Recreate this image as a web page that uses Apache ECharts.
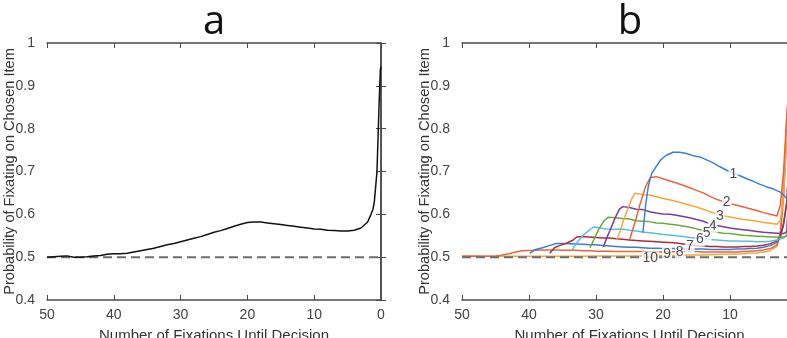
<!DOCTYPE html>
<html>
<head>
<meta charset="utf-8">
<script src="https://cdn.jsdelivr.net/npm/echarts@6/dist/echarts.min.js"></script>
<style>
html, body { margin: 0; padding: 0; background: #fff; }
#main { width: 787px; height: 338px; }
</style>
</head>
<body>
<div id="main"></div>
<script>
// panel a: all trials
var curveA = [[50,0.500],[49,0.501],[48,0.502],[47,0.503],[46,0.500],[45,0.500],[44,0.501],[43,0.503],[42,0.504],[41,0.507],
    [40,0.508],[39,0.508],[38,0.509],[37,0.512],[36,0.515],[35,0.518],[34,0.521],[33,0.525],[32,0.529],[31,0.532],
    [30,0.536],[29,0.540],[28,0.544],[27,0.548],[26,0.553],[25,0.558],[24,0.562],[23,0.567],[22,0.572],[21,0.577],
    [20,0.581],[19,0.582],[18,0.582],[17,0.580],[16,0.578],[15,0.576],[14,0.574],[13,0.572],[12,0.570],[11,0.568],
    [10,0.566],[9,0.565],[8,0.563],[7,0.562],[6,0.561],[5,0.561],[4,0.563],[3,0.568],[2,0.582],[1.5,0.600],
    [1.2,0.612],[1,0.629],[0.6,0.700],[0.3,0.850],[0.1,0.937],[0,0.945]];

// panel b: one curve per group (1..10)
var curve1 = [[23,0.557],[22.6,0.620],[22.2,0.665],[21.7,0.695],[21,0.712],[20.3,0.728],[19.5,0.738],[18.5,0.745],[17.5,0.745],
    [16.5,0.742],[15.5,0.737],[14.5,0.734],[13.5,0.727],[12.5,0.720],[11.5,0.711],[10.5,0.703],[9.5,0.696],[8.5,0.690],
    [7.5,0.683],[6.5,0.677],[5.5,0.670],[4.5,0.664],[3.5,0.659],[2.5,0.652],[1.5,0.637],[1,0.660],[0.5,0.800],[0,0.950]];
var curve2 = [[25,0.540],[24.2,0.580],[23.4,0.625],[22.6,0.665],[21.9,0.686],[21,0.688],[20,0.683],[19,0.678],[18,0.673],
    [17,0.668],[16,0.662],[15,0.656],[14,0.650],[13,0.642],[12,0.635],[11,0.630],[10,0.625],[9,0.621],[8,0.617],[7,0.613],
    [6,0.609],[5,0.604],[4,0.600],[3,0.596],[2.5,0.620],[2,0.700],[1.5,0.840],[1,0.920],[0,0.970]];
var curve3 = [[26.9,0.540],[26.3,0.565],[25.9,0.586],[25.2,0.615],[24.6,0.638],[24.2,0.649],[23,0.646],[22,0.645],[21,0.641],
    [20,0.637],[19,0.634],[18,0.630],[17,0.626],[16,0.621],[15,0.617],[14,0.612],[13,0.606],[12,0.601],[11,0.597],[10,0.594],
    [9,0.591],[8,0.588],[7,0.586],[6,0.584],[5,0.581],[4,0.579],[3,0.577],[2.5,0.585],[2,0.640],[1.5,0.790],[1,0.900],[0,0.970]];
var curve4 = [[28.9,0.524],[28.4,0.545],[27.9,0.563],[27.2,0.590],[26.5,0.612],[26,0.618],[25,0.616],[24,0.612],[23,0.611],
    [22,0.606],[21,0.603],[20,0.601],[19,0.600],[18,0.598],[17,0.595],[16,0.592],[15,0.588],[14,0.584],[13,0.578],[12,0.574],
    [11,0.571],[10,0.568],[9,0.566],[8,0.564],[7,0.562],[6,0.560],[5,0.558],[4,0.557],[3,0.556],[2,0.555],[1.5,0.560],
    [1,0.750],[0,0.960]];
var curve5 = [[30.9,0.522],[30.2,0.545],[29.5,0.568],[28.8,0.585],[28.2,0.593],[27,0.592],[26,0.590],[25,0.589],[24,0.585],
    [23,0.584],[22,0.583],[21,0.580],[20,0.579],[19,0.577],[18,0.575],[17,0.573],[16,0.570],[15,0.566],[14,0.563],[13,0.560],
    [12,0.558],[11,0.556],[10,0.555],[9,0.553],[8,0.551],[7,0.550],[6,0.549],[5,0.548],[4,0.547],[3,0.547],[2,0.547],
    [1.5,0.550],[1,0.720],[0,0.960]];
var curve6 = [[33.6,0.516],[32.8,0.535],[32,0.550],[31,0.563],[30.3,0.571],[29.5,0.568],[28.5,0.566],[27,0.565],[26,0.566],
    [25,0.563],[24,0.561],[23,0.559],[22,0.557],[21,0.555],[20,0.553],[19,0.552],[18,0.550],[17,0.548],[16,0.546],[15,0.545],
    [14,0.543],[13,0.541],[12,0.540],[11,0.539],[10,0.538],[9,0.538],[8,0.537],[7,0.537],[6,0.536],[5,0.536],[4,0.537],
    [3,0.540],[2,0.545],[1.5,0.550],[1,0.700],[0,0.950]];
var curve7 = [[36.9,0.509],[36.2,0.522],[35.5,0.527],[34.5,0.532],[33.4,0.540],[32.9,0.547],[32,0.548],[31,0.547],[30,0.546],
    [29,0.545],[28,0.545],[27,0.543],[26,0.542],[25,0.540],[24,0.539],[23,0.538],[22,0.537],[21,0.536],[20,0.535],[19,0.534],
    [18,0.533],[17,0.531],[16,0.529],[15,0.527],[14,0.526],[13,0.525],[12,0.525],[11,0.524],[10,0.524],[9,0.524],[8,0.525],
    [7,0.525],[6,0.526],[5,0.528],[4,0.531],[3,0.538],[2.5,0.550],[2,0.580],[1.5,0.630],[1,0.800],[0,0.960]];
var curve8 = [[39.9,0.509],[39,0.518],[38,0.522],[37,0.527],[35.9,0.532],[34.5,0.532],[33,0.531],[32,0.530],[31,0.529],
    [30,0.529],[29,0.527],[28,0.526],[27,0.525],[26,0.524],[25,0.523],[24,0.523],[23,0.522],[22,0.521],[21,0.521],[20,0.520],
    [19,0.520],[18,0.520],[17,0.519],[16,0.519],[15,0.519],[14,0.519],[13,0.518],[12,0.518],[11,0.518],[10,0.518],[9,0.519],
    [8,0.519],[7,0.520],[6,0.521],[5,0.523],[4,0.527],[3,0.534],[2.5,0.545],[2,0.575],[1.5,0.630],[1,0.800],[0,0.950]];
var curve9 = [[50,0.502],[47,0.502],[45,0.503],[44.3,0.504],[43,0.508],[42,0.512],[41,0.515],[39.4,0.516],[38,0.517],[37,0.517],
    [36,0.517],[35,0.516],[34,0.516],[33,0.516],[32,0.515],[31,0.515],[30,0.514],[29,0.514],[28,0.514],[27,0.513],[26,0.513],
    [25,0.513],[24,0.513],[23,0.513],[22,0.512],[21,0.512],[20,0.512],[19,0.512],[18,0.513],[17,0.513],[16,0.513],[15,0.513],
    [14,0.512],[13,0.512],[12,0.512],[11,0.512],[10,0.512],[9,0.512],[8,0.513],[7,0.514],[6,0.515],[5,0.517],[4,0.520],
    [3,0.528],[2.5,0.550],[2,0.640],[1.5,0.800],[1,0.900],[0,0.970]];
var curve10 = [[50,0.503],[48,0.503],[46,0.502],[44,0.502],[42,0.502],[40,0.502],[38,0.502],[36,0.502],[34,0.502],[32,0.502],
    [30,0.503],[28,0.503],[26,0.503],[24,0.503],[22,0.503],[20,0.504],[18,0.504],[16,0.505],[14,0.505],[12,0.506],[10,0.507],
    [8,0.508],[7,0.509],[6,0.510],[5,0.512],[4,0.515],[3,0.525],[2.5,0.560],[2,0.680],[1.5,0.820],[1,0.920],[0,0.970]];

var curvesB = [curve1, curve2, curve3, curve4, curve5, curve6, curve7, curve8, curve9, curve10];
var colorsB = ['#3b7fd4','#e8643c','#f2a83c','#7e3b9b','#6aab3a','#58bde9','#ad2d3a','#3b7fd4','#e8643c','#f2a83c'];

// inline curve labels in panel b
var labelText = ['1','2','3','4','5','6','7','8','9','10'];
var labelX = [9.5, 10.5, 11.5, 12.6, 13.5, 14.5, 16, 17.5, 19.4, 21.9];
var labelY = [0.694, 0.628, 0.596, 0.573, 0.555, 0.541, 0.526, 0.512, 0.507, 0.497];

// chance level
var chanceLine = [[50,0.5],[0,0.5]];

var yName = 'Probability of Fixating on Chosen Item';
var xName = 'Number of Fixations Until Decision';

var chart = echarts.init(document.getElementById('main'));

var frameColor = '#4a4a4a';
var fontMain = '"Liberation Sans", Arial, sans-serif';

function bottomX(grid) {
    return {
        gridIndex: grid, type: 'value', min: 0, max: 50, interval: 10, inverse: true, position: 'bottom',
        name: xName, nameLocation: 'middle', nameGap: 28, nameMoveOverlap: false,
        nameTextStyle: { color: '#333', fontSize: 15, fontFamily: fontMain },
        axisLine: { lineStyle: { color: frameColor, width: 1.5 } },
        axisTick: { inside: true, length: 5, lineStyle: { color: frameColor } },
        axisLabel: { color: '#444', fontSize: 14, fontFamily: fontMain, margin: 8 },
        splitLine: { show: false }
    };
}
function topX(grid) {
    return {
        gridIndex: grid, type: 'value', min: 0, max: 50, interval: 10, inverse: true, position: 'top',
        axisLine: { lineStyle: { color: frameColor, width: 1.5 } },
        axisTick: { inside: true, length: 5, lineStyle: { color: frameColor } },
        axisLabel: { show: false }, splitLine: { show: false }
    };
}
function leftY(grid) {
    return {
        gridIndex: grid, type: 'value', min: 0.4, max: 1, interval: 0.1, position: 'left',
        name: yName, nameLocation: 'middle', nameGap: 30, nameMoveOverlap: false,
        nameTextStyle: { color: '#333', fontSize: 14.6, fontFamily: fontMain },
        axisLine: { show: true, lineStyle: { color: frameColor, width: 1.5 } },
        axisTick: { show: true, inside: true, length: 5, lineStyle: { color: frameColor } },
        axisLabel: { color: '#444', fontSize: 14, fontFamily: fontMain, margin: 12 },
        splitLine: { show: false }
    };
}
function rightY(grid) {
    return {
        gridIndex: grid, type: 'value', min: 0.4, max: 1, interval: 0.1, position: 'right',
        axisLine: { show: true, lineStyle: { color: frameColor, width: 1.5 } },
        axisTick: { show: true, inside: true, length: 5, lineStyle: { color: frameColor } },
        axisLabel: { show: false }, splitLine: { show: false }
    };
}

var series = [];
// panel a
series.push({ type: 'line', xAxisIndex: 0, yAxisIndex: 0, data: curveA, showSymbol: false,
    lineStyle: { color: '#111', width: 1.5 }, z: 3 });
series.push({ type: 'line', xAxisIndex: 0, yAxisIndex: 0, data: chanceLine, showSymbol: false,
    lineStyle: { color: '#6e6e6e', width: 2, type: [9, 5] }, z: 2 });
// panel b
for (var i = 0; i < curvesB.length; i++) {
    series.push({ type: 'line', xAxisIndex: 2, yAxisIndex: 2, data: curvesB[i], showSymbol: false,
        lineStyle: { color: colorsB[i], width: 1.5 }, z: 3 + (curvesB.length - i) * 0.01 });
}
series.push({ type: 'line', xAxisIndex: 2, yAxisIndex: 2, data: chanceLine, showSymbol: false,
    lineStyle: { color: '#6e6e6e', width: 2, type: [9, 5] }, z: 5 });
var labelData = [];
for (var j = 0; j < labelText.length; j++) {
    labelData.push({ name: labelText[j], value: [labelX[j], labelY[j]] });
}
series.push({ type: 'scatter', xAxisIndex: 2, yAxisIndex: 2, data: labelData, symbolSize: 1,
    itemStyle: { color: 'rgba(0,0,0,0)' }, z: 6,
    label: { show: true, position: 'inside', formatter: '{b}', color: '#222', fontSize: 14,
        fontFamily: fontMain, backgroundColor: '#fff', padding: [0, 1] } });

var option = {
    animation: false,
    backgroundColor: '#fff',
    // grids are placed by hand; panel b runs past the right edge
    grid: [
        { left: 47, top: 43, width: 334, height: 257, containLabel: false, outerBoundsMode: 'none' },
        { left: 462, top: 43, width: 335, height: 257, containLabel: false, outerBoundsMode: 'none' }
    ],
    xAxis: [bottomX(0), topX(0), bottomX(1), topX(1)],
    yAxis: [leftY(0), rightY(0), leftY(1), rightY(1)],
    graphic: [
        { type: 'text', x: 214, y: 23, style: { text: 'a', font: '40px "Open Sans", sans-serif', fill: '#111',
            textAlign: 'center', textVerticalAlign: 'middle' } },
        { type: 'text', x: 630, y: 23, style: { text: 'b', font: '40px "Open Sans", sans-serif', fill: '#111',
            textAlign: 'center', textVerticalAlign: 'middle' } }
    ],
    series: series
};
chart.setOption(option);
</script>
</body>
</html>
